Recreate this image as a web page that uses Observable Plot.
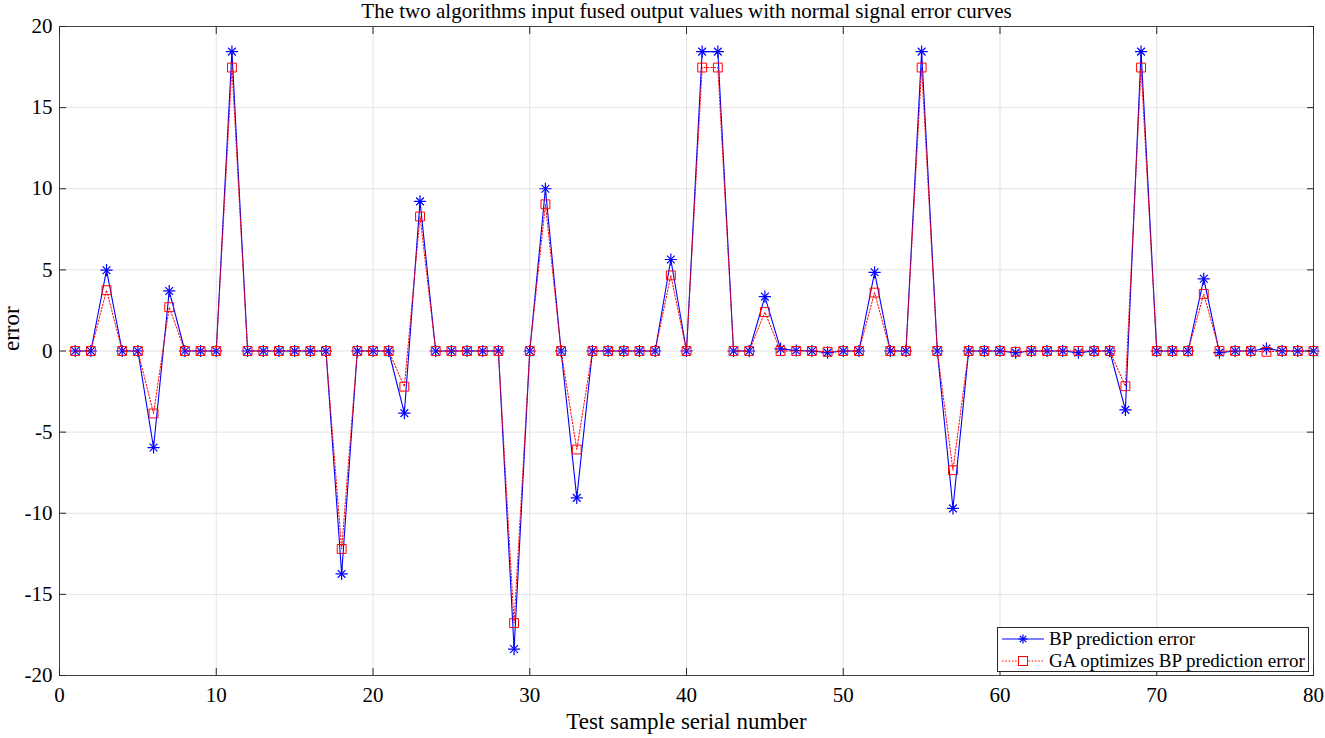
<!DOCTYPE html>
<html>
<head>
<meta charset="utf-8">
<script src="https://cdn.jsdelivr.net/npm/d3@7"></script>
<script src="https://cdn.jsdelivr.net/npm/@observablehq/plot@0.6"></script>
<style>
  html, body { margin: 0; padding: 0; background: #fff; }
  #wrap { position: relative; width: 1325px; height: 738px; font-family: "Liberation Serif", "Times New Roman", serif; }
  #legend { position: absolute; left: 997px; top: 627px; width: 312px; height: 45px; border: 1px solid #262626; background: #fff; box-sizing: border-box; font-size: 19px; color: #000; }
  .row { position: absolute; left: 4px; height: 22px; display: flex; align-items: center; }
  .row span { margin-left: 5px; white-space: nowrap; }
</style>
</head>
<body>
<div id="wrap"></div>
<script>
const title = "The two algorithms input fused output values with normal signal error curves";
const xLabel = "Test sample serial number";
const yLabel = "error";
const seriesNames = ["BP prediction error", "GA optimizes BP prediction error"];

const samples = d3.range(1, 81);
const bpError = [
  0, 0, 4.98, 0, 0, -5.95, 3.7, 0, 0, 0,
  18.45, 0, 0, 0, 0, 0, 0, -13.74, 0, 0,
  0, -3.83, 9.22, 0, 0, 0, 0, 0, -18.37, 0,
  10.0, 0, -9.05, 0, 0, 0, 0, 0, 5.64, 0,
  18.45, 18.45, 0, 0, 3.35, 0.13, 0.03, 0, -0.1, 0,
  0, 4.85, 0, 0, 18.45, 0, -9.7, 0, 0, 0,
  -0.1, 0, 0, 0, -0.1, 0, 0, -3.63, 18.45, 0,
  0, 0, 4.45, -0.1, 0, 0, 0.15, 0, 0, 0
];
const gaError = [
  0, 0, 3.75, 0, 0, -3.85, 2.7, 0, 0, 0,
  17.47, 0, 0, 0, 0, 0, 0, -12.2, 0, 0,
  0, -2.2, 8.29, 0, 0, 0, 0, 0, -16.77, 0,
  9.04, 0, -6.07, 0, 0, 0, 0, 0, 4.66, 0,
  17.47, 17.47, 0, 0, 2.4, 0, 0, 0, -0.05, 0,
  0, 3.6, 0, 0, 17.47, 0, -7.35, 0, 0, 0,
  -0.05, 0, 0, 0, 0, 0, 0, -2.17, 17.47, 0,
  0, 0, 3.52, 0, 0, 0, -0.05, 0, 0, 0
];
const xTicks = [0, 10, 20, 30, 40, 50, 60, 70, 80];
const yTicks = [-20, -15, -10, -5, 0, 5, 10, 15, 20];

const bp = samples.map((s, i) => ({x: s, y: bpError[i]}));
const ga = samples.map((s, i) => ({x: s, y: gaError[i]}));

const blue = "#0000ff";
const red = "#ff0000";
const axisColor = "#262626";
const serif = "'Liberation Serif', 'Times New Roman', serif";
const fmt = d => String(d);

const chart = Plot.plot({
  width: 1325,
  height: 738,
  marginTop: 26,
  marginLeft: 59,
  marginRight: 12,
  marginBottom: 63,
  style: {fontFamily: serif, fontSize: "20px", color: "#000", background: "#fff"},
  x: {domain: [0, 80], ticks: xTicks},
  y: {domain: [-20, 20], ticks: yTicks},
  marks: [
    Plot.gridX(xTicks, {stroke: "#e3e3e3", strokeOpacity: 1}),
    Plot.gridY(yTicks, {stroke: "#e3e3e3", strokeOpacity: 1}),
    Plot.line(bp, {x: "x", y: "y", stroke: blue, strokeWidth: 1.1}),
    Plot.dot(bp, {x: "x", y: "y", symbol: "plus", stroke: blue, strokeWidth: 1.2, r: 4}),
    Plot.dot(bp, {x: "x", y: "y", symbol: "times", stroke: blue, strokeWidth: 1.2, r: 3.6}),
    Plot.line(ga, {x: "x", y: "y", stroke: red, strokeWidth: 1, strokeDasharray: "1.5,1.8"}),
    Plot.dot(ga, {x: "x", y: "y", symbol: "square", fill: "none", stroke: red, strokeWidth: 1, r: 5}),
    Plot.frame({stroke: axisColor, strokeOpacity: 0.85}),
    Plot.axisX(xTicks, {anchor: "bottom", tickSize: -7, tickPadding: 19, tickFormat: fmt, stroke: axisColor, fill: "#000", fontSize: 21, fontFamily: serif, label: null}),
    Plot.axisX(xTicks, {anchor: "top", tickSize: -7, tickFormat: () => "", stroke: axisColor, label: null}),
    Plot.axisY(yTicks, {anchor: "left", tickSize: -7, tickPadding: 14, tickFormat: fmt, stroke: axisColor, fill: "#000", fontSize: 21, fontFamily: serif, label: null}),
    Plot.axisY(yTicks, {anchor: "right", tickSize: -7, tickFormat: () => "", stroke: axisColor, label: null}),
    Plot.text([title], {frameAnchor: "top", lineAnchor: "bottom", dy: -9, fontSize: 21, fontFamily: serif, fill: "#000"}),
    Plot.text([xLabel], {frameAnchor: "bottom", lineAnchor: "bottom", dy: 53, fontSize: 23, fontFamily: serif, fill: "#000"}),
    Plot.text([yLabel], {frameAnchor: "left", dx: -48, rotate: -90, fontSize: 23, fontFamily: serif, fill: "#000"})
  ]
});

const wrap = document.getElementById("wrap");
wrap.appendChild(chart);

const legend = document.createElement("div");
legend.id = "legend";
legend.innerHTML = `
  <div class="row" style="top:0px">
    <svg width="42" height="22"><line x1="0" y1="11" x2="42" y2="11" stroke="${blue}" stroke-width="1.1"/>
      <g stroke="${blue}" stroke-width="1.2"><line x1="21" y1="6.5" x2="21" y2="15.5"/><line x1="16.5" y1="11" x2="25.5" y2="11"/><line x1="17.8" y1="7.8" x2="24.2" y2="14.2"/><line x1="17.8" y1="14.2" x2="24.2" y2="7.8"/></g></svg>
    <span>${seriesNames[0]}</span>
  </div>
  <div class="row" style="top:22px">
    <svg width="42" height="22"><line x1="0" y1="11" x2="42" y2="11" stroke="${red}" stroke-width="1" stroke-dasharray="1.5,1.8"/>
      <rect x="16.5" y="6.5" width="9" height="9" fill="#fff" stroke="${red}" stroke-width="1"/></svg>
    <span>${seriesNames[1]}</span>
  </div>`;
wrap.appendChild(legend);
</script>
</body>
</html>
